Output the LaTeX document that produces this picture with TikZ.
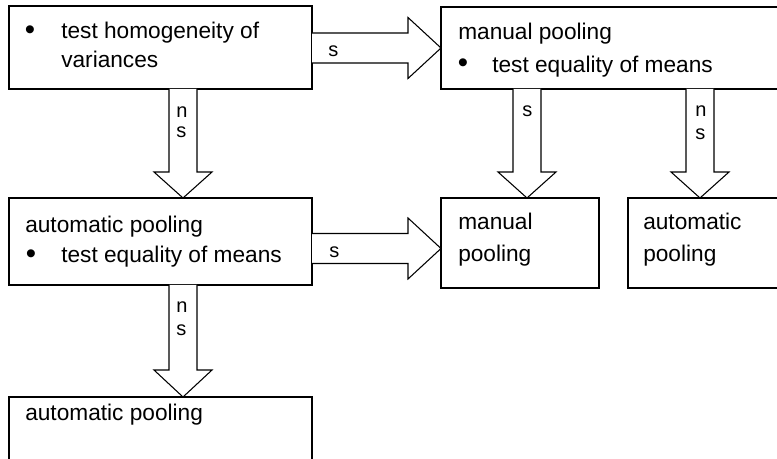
\documentclass[tikz,border=0pt]{standalone}
\usepackage{fontspec}
\setmainfont{Liberation Sans}
\usetikzlibrary{calc}
\begin{document}
\begin{tikzpicture}[x=0.75pt,y=-0.75pt,
 box/.style={draw, line width=0.8pt, inner sep=0pt, outer sep=0pt, anchor=north west},
 txt/.style={anchor=base west, inner sep=0pt, font=\fontsize{17}{20}\selectfont},
 bul/.style={anchor=center, inner sep=0pt, font=\fontsize{22}{24}\selectfont},
 lab/.style={anchor=base west, inner sep=0pt, font=\fontsize{15}{18}\selectfont},
 blk/.style={draw, line width=0.8pt, fill=white, line join=miter}]
\useasboundingbox (0,0) rectangle (777,459);
\clip (0,0) rectangle (777,459);
% boxes
\node[box, minimum width=227.25pt, minimum height=62.25pt] (A) at (9,6) {};
\node[box, minimum width=269.25pt, minimum height=61.5pt] (B) at (441,7) {};
\node[box, minimum width=227.25pt, minimum height=65.25pt] (C) at (9,198) {};
\node[box, minimum width=118.5pt, minimum height=67.5pt] (D) at (441,198) {};
\node[box, minimum width=129pt, minimum height=67.5pt] (E) at (628,198) {};
\node[box, minimum width=227.25pt, minimum height=62.25pt] (F) at (9,397) {};
% box texts
\node[bul] (a0) at ($(A.north west)+(21,27)$) {\textbullet};
\node[txt] (a1) at ($(A.north west)+(52,33)$) {test homogeneity of};
\node[txt] (a2) at ($(A.north west)+(52,62)$) {variances};
\node[txt] (b1) at ($(B.north west)+(17,33)$) {manual pooling};
\node[bul] (b0) at ($(B.north west)+(22,59)$) {\textbullet};
\node[txt] (b2) at ($(B.north west)+(51,66)$) {test equality of means};
\node[txt] (c1) at ($(C.north west)+(16,35)$) {automatic pooling};
\node[bul] (c0) at ($(C.north west)+(22,59)$) {\textbullet};
\node[txt] (c2) at ($(C.north west)+(52,65)$) {test equality of means};
\node[txt] (d1) at ($(D.north west)+(17,32)$) {manual};
\node[txt] (d2) at ($(D.north west)+(17,64)$) {pooling};
\node[txt] (e1) at ($(E.north west)+(15,32)$) {automatic};
\node[txt] (e2) at ($(E.north west)+(15,64)$) {pooling};
\node[txt] (f1) at ($(F.north west)+(16,23)$) {automatic pooling};
% tips
\coordinate (tAB) at (B.west);
\coordinate (tCD) at ($(D.west)+(0,5.5)$);
\coordinate (tAC) at ($(C.north west)+(174,0)$);
\coordinate (tBD) at ($(D.north west)+(86,0)$);
\coordinate (tBE) at ($(E.north west)+(72,0)$);
\coordinate (tCF) at ($(F.north west)+(174,0)$);
% right block arrows
\draw[blk] ($(A.east |- tAB)+(0,-15)$) -- ($(tAB)+(-33,-15)$) -- ($(tAB)+(-33,-30.5)$) -- (tAB)
  -- ($(tAB)+(-33,30.5)$) -- ($(tAB)+(-33,15)$) -- ($(A.east |- tAB)+(0,15)$);
\draw[blk] ($(C.east |- tCD)+(0,-15)$) -- ($(tCD)+(-33,-15)$) -- ($(tCD)+(-33,-30.5)$) -- (tCD)
  -- ($(tCD)+(-33,30.5)$) -- ($(tCD)+(-33,15)$) -- ($(C.east |- tCD)+(0,15)$);
% down block arrows
\draw[blk] ($(tAC |- A.south)+(-14,0)$) -- ($(tAC)+(-14,-26)$) -- ($(tAC)+(-29,-26)$) -- (tAC)
  -- ($(tAC)+(29,-26)$) -- ($(tAC)+(14,-26)$) -- ($(tAC |- A.south)+(14,0)$);
\draw[blk] ($(tBD |- B.south)+(-14,0)$) -- ($(tBD)+(-14,-26)$) -- ($(tBD)+(-29,-26)$) -- (tBD)
  -- ($(tBD)+(29,-26)$) -- ($(tBD)+(14,-26)$) -- ($(tBD |- B.south)+(14,0)$);
\draw[blk] ($(tBE |- B.south)+(-14,0)$) -- ($(tBE)+(-14,-26)$) -- ($(tBE)+(-29,-26)$) -- (tBE)
  -- ($(tBE)+(29,-26)$) -- ($(tBE)+(14,-26)$) -- ($(tBE |- B.south)+(14,0)$);
\draw[blk] ($(tCF |- C.south)+(-14,0)$) -- ($(tCF)+(-14,-27)$) -- ($(tCF)+(-29,-27)$) -- (tCF)
  -- ($(tCF)+(29,-27)$) -- ($(tCF)+(14,-27)$) -- ($(tCF |- C.south)+(14,0)$);
% labels
\node[lab] (lAB) at (328,57) {s};
\node[lab] (lCD) at (329,258) {s};
\node[lab] (lAC1) at (176,118) {n};
\node[lab] (lAC2) at (176,138) {s};
\node[lab] (lCF1) at (176,312) {n};
\node[lab] (lCF2) at (176,335) {s};
\node[lab] (lBD) at (522,117) {s};
\node[lab] (lBE1) at (695,117) {n};
\node[lab] (lBE2) at (695,140) {s};
\end{tikzpicture}
\end{document}
